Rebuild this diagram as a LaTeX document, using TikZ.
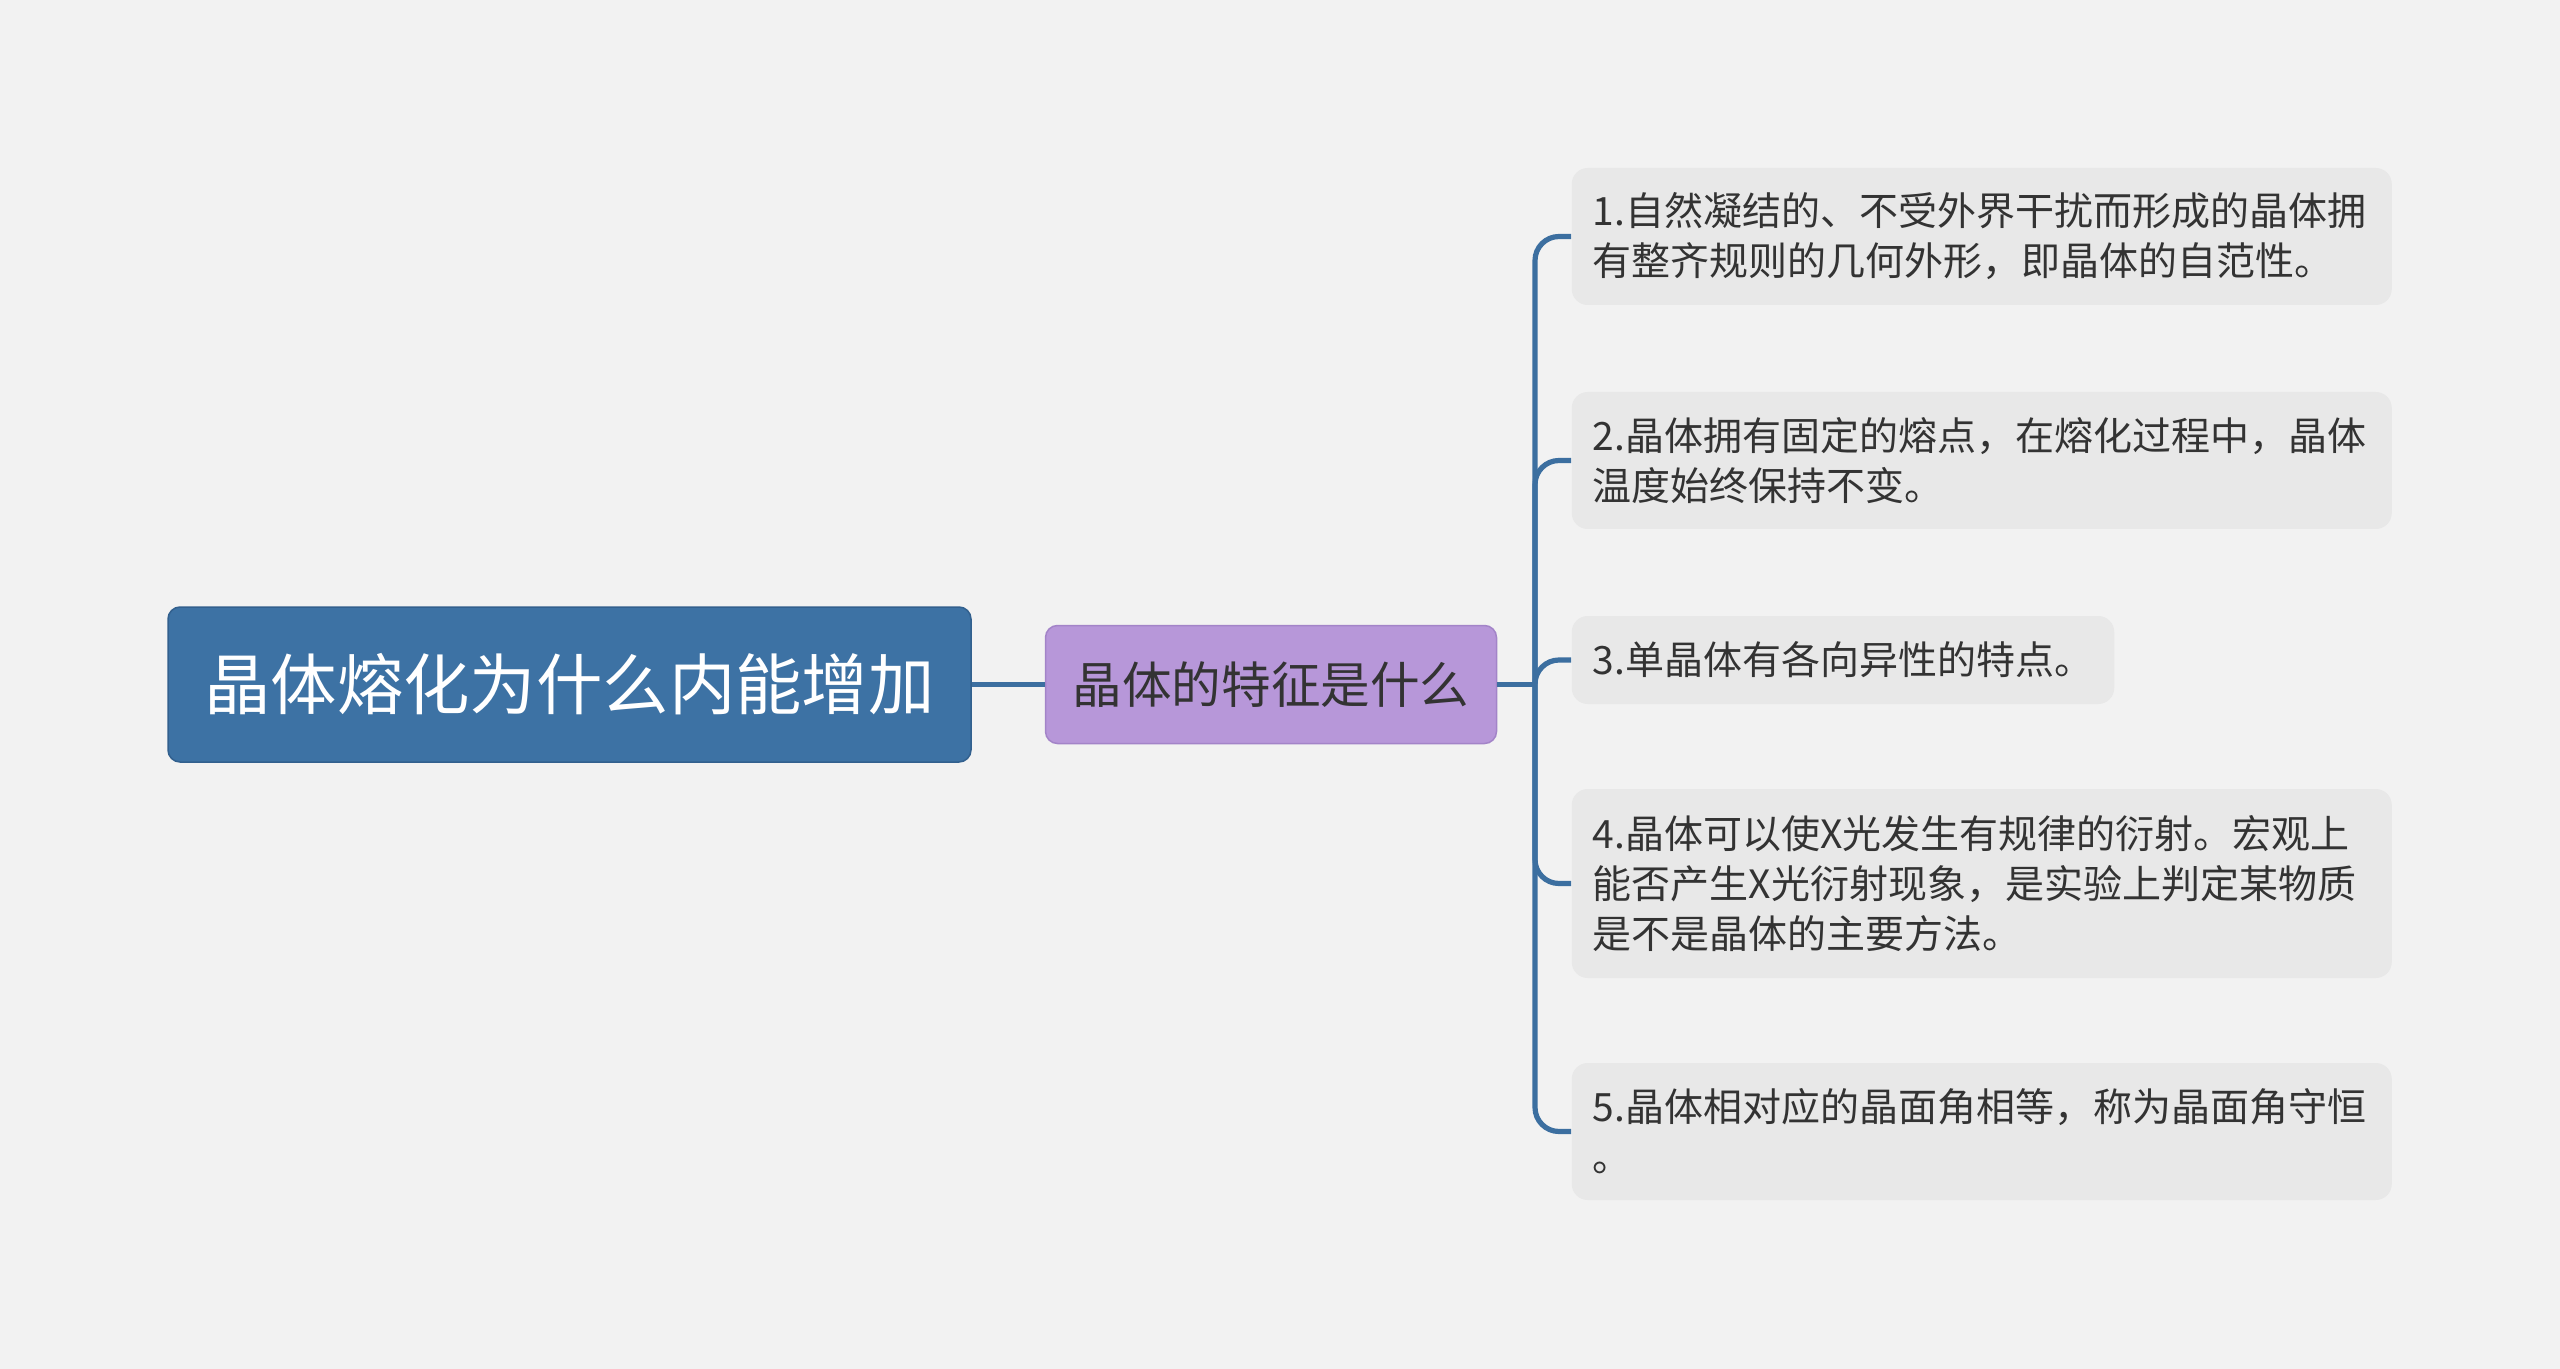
\documentclass[tikz,border=0pt]{standalone}
\usepackage{fontspec}
\setmainfont{Noto Sans CJK SC}

\definecolor{bgcol}{RGB}{242,242,242}
\definecolor{rootcol}{RGB}{61,114,164}
\definecolor{rootline}{RGB}{50,96,142}
\definecolor{subcol}{RGB}{183,151,217}
\definecolor{subline}{RGB}{163,132,200}
\definecolor{leafcol}{RGB}{232,232,232}
\definecolor{linkcol}{RGB}{60,111,160}
\definecolor{txtcol}{RGB}{51,51,51}

\tikzset{every picture/.style={line width=0.75pt}}
\tikzset{
  rootbox/.style={draw=rootline, fill=rootcol, rounded corners=6pt, text=white,
    inner sep=0pt, font=\fontsize{33.2}{40}\selectfont},
  subbox/.style={draw=subline, fill=subcol, rounded corners=6pt, text=txtcol,
    inner sep=0pt, font=\fontsize{24.8}{30}\selectfont},
  leafbox/.style={fill=leafcol, rounded corners=8pt, text=txtcol, align=left,
    inner xsep=10.5pt, inner ysep=0pt, anchor=west, font=\fontsize{19.5}{25}\selectfont},
  wideleaf/.style={leafbox, text width=389pt},
  link/.style={draw=linkcol, line width=2.6pt}
}

\begin{document}
\begin{tikzpicture}[x=0.5pt,y=0.5pt,yscale=-1,xscale=1]
%Background
\fill [bgcol] (0,0) rectangle (2560,1369);
\useasboundingbox (0,0) rectangle (2560,1369);

%Root
\node [rootbox, minimum width=401.5pt, minimum height=77.5pt] (root) at (569.5,684.5) {晶体熔化为什么内能增加};
%Sub topic
\node [subbox, minimum width=225.5pt, minimum height=59pt] (feat) at (1271,684.5) {晶体的特征是什么};

%Leaves
\node [wideleaf, minimum height=68.5pt] (leaf1) at (1571,236.5) {1.自然凝结的、不受外界干扰而形成的晶体拥\\有整齐规则的几何外形，即晶体的自范性。};
\node [wideleaf, minimum height=68.5pt] (leaf2) at (1571,460.5) {2.晶体拥有固定的熔点，在熔化过程中，晶体\\温度始终保持不变。};
\node [leafbox, minimum height=44pt] (leaf3) at (1571,660) {3.单晶体有各向异性的特点。};
\node [wideleaf, minimum height=94.5pt] (leaf4) at (1571,883.5) {4.晶体可以使X光发生有规律的衍射。宏观上\\能否产生X光衍射现象，是实验上判定某物质\\是不是晶体的主要方法。};
\node [wideleaf, minimum height=68.5pt] (leaf5) at (1571,1131.5) {5.晶体相对应的晶面角相等，称为晶面角守恒\\。};

%Connectors
\coordinate (fork) at (1535,684.5);
\draw [link] (root.east) -- (feat.west);
\draw [link] (feat.east) -- (fork);
\foreach \i in {1,...,5}
  \draw [link, rounded corners=12pt] (fork) |- (leaf\i.west);

\end{tikzpicture}
\end{document}
